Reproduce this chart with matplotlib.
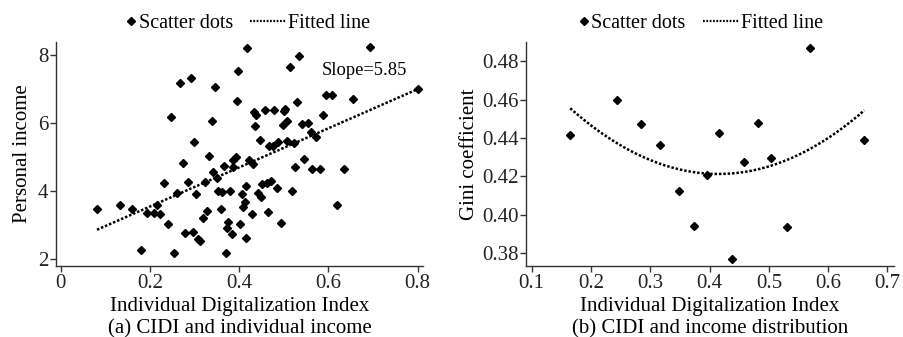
import numpy as np
import matplotlib
matplotlib.use("Agg")
from matplotlib import pyplot as plt
from matplotlib.lines import Line2D
from matplotlib.legend_handler import HandlerLine2D

plt.rcParams['font.family'] = ['Liberation Serif', 'DejaVu Serif']
plt.rcParams['font.size'] = 15

# (a) CIDI vs personal income
cidi_a = [0.418, 0.693, 0.535, 0.513, 0.398, 0.291, 0.268, 0.346, 0.800, 0.656,
          0.595, 0.607, 0.395, 0.530, 0.246, 0.338, 0.432, 0.438, 0.458, 0.479,
          0.502, 0.500, 0.588, 0.508, 0.497, 0.436, 0.541, 0.554, 0.560, 0.573,
          0.299, 0.446, 0.467, 0.476, 0.487, 0.506, 0.522, 0.273, 0.333, 0.365,
          0.386, 0.392, 0.422, 0.431, 0.526, 0.545, 0.563, 0.582, 0.634, 0.387,
          0.342, 0.231, 0.284, 0.324, 0.350, 0.261, 0.302, 0.353, 0.362, 0.380,
          0.406, 0.416, 0.412, 0.409, 0.443, 0.448, 0.450, 0.462, 0.472, 0.485,
          0.518, 0.465, 0.494, 0.428, 0.620, 0.081, 0.133, 0.160, 0.194, 0.208,
          0.216, 0.223, 0.240, 0.318, 0.328, 0.358, 0.375, 0.373, 0.383, 0.401,
          0.416, 0.278, 0.296, 0.307, 0.312, 0.179, 0.253, 0.370]
income = [8.20, 8.23, 7.97, 7.65, 7.53, 7.33, 7.19, 7.06, 7.00, 6.70,
          6.82, 6.82, 6.65, 6.62, 6.17, 6.06, 6.32, 6.24, 6.40, 6.40,
          6.43, 6.36, 6.23, 6.07, 5.94, 5.91, 5.99, 6.01, 5.75, 5.59,
          5.44, 5.50, 5.34, 5.34, 5.44, 5.47, 5.41, 4.84, 5.03, 4.75,
          4.92, 5.00, 4.92, 4.80, 4.72, 4.94, 4.65, 4.65, 4.65, 4.72,
          4.57, 4.25, 4.28, 4.26, 4.40, 3.94, 3.92, 4.01, 3.97, 4.01,
          3.91, 4.15, 3.69, 3.53, 3.96, 3.84, 4.21, 4.23, 4.30, 4.08,
          4.01, 3.38, 3.07, 3.33, 3.59, 3.48, 3.59, 3.48, 3.35, 3.37,
          3.59, 3.33, 3.03, 3.22, 3.42, 3.48, 3.09, 2.91, 2.73, 3.03,
          2.62, 2.76, 2.81, 2.60, 2.54, 2.27, 2.18, 2.18]
fit_a = (2.40, 5.75)  # intercept, slope of fitted line
slope_text = "Slope=5.85"

# (b) CIDI vs Gini coefficient
cidi_b = [0.165, 0.243, 0.285, 0.317, 0.416, 0.481, 0.569, 0.661, 0.458, 0.503,
          0.395, 0.348, 0.373, 0.437, 0.530]
gini = [0.4416, 0.4598, 0.4471, 0.4363, 0.4426, 0.4478, 0.4870, 0.4390, 0.4275, 0.4297,
        0.4207, 0.4121, 0.3940, 0.3766, 0.3933]
fit_b = (0.548, 0.415, 0.4212)  # a, vertex x, vertex y

xticks_a = [0, 0.2, 0.4, 0.6, 0.8]
xlabels_a = ["0", "0.2", "0.4", "0.6", "0.8"]
yticks_a = [2, 4, 6, 8]
xticks_b = [0.1, 0.2, 0.3, 0.4, 0.5, 0.6, 0.7]
yticks_b = [0.38, 0.40, 0.42, 0.44, 0.46, 0.48]

DOTS = (0, (1, 0.75))


class RightMarker(HandlerLine2D):
    # put the diamond close to its text, like the original legend
    def create_artists(self, legend, orig_handle, xdescent, ydescent, width, height, fontsize, trans):
        shift = width / 2 - 4
        return super().create_artists(legend, orig_handle, xdescent - shift, ydescent,
                                      width, height, fontsize, trans)


def style(ax):
    for s in ['top', 'right']:
        ax.spines[s].set_visible(False)
    for s in ['left', 'bottom']:
        ax.spines[s].set_color('#333333')
        ax.spines[s].set_linewidth(1.0)
    ax.tick_params(direction='out', length=4, width=1, color='#333333', labelcolor='#222222', pad=1.5)


def add_legend(ax, xc):
    dot = Line2D([], [], marker='D', ms=3.8, color='black', ls='none')
    line = Line2D([], [], color='black', ls=(0, (0.8, 0.7)), lw=1.6)
    ax.legend([dot, line], ["Scatter dots", "Fitted line"], ncol=2, frameon=False,
              loc='center', bbox_to_anchor=(xc, 1.083), handlelength=1.8,
              handletextpad=0.1, columnspacing=0.85, borderpad=0, fontsize=14.5,
              handler_map={dot: RightMarker(numpoints=1)})


fig = plt.figure(figsize=(9.04, 3.37), dpi=100)
ax1 = fig.add_axes([0.0619, 0.2107, 0.406, 0.664])
ax2 = fig.add_axes([0.5819, 0.2107, 0.407, 0.664])

# panel a
ax1.plot(cidi_a, income, 'D', ms=4.3, color='black')
xa = np.array([min(cidi_a), max(cidi_a)])
ax1.plot(xa, fit_a[0] + fit_a[1] * xa, ls=DOTS, lw=1.8, color='black')
ax1.text(0.585, 7.56, slope_text, va='center', ha='left', fontsize=13.3)
ax1.set_xlim(-0.011, 0.812)
ax1.set_ylim(1.80, 8.38)
ax1.set_xticks(xticks_a, xlabels_a)
ax1.set_yticks(yticks_a)
ax1.set_xlabel("Individual Digitalization Index", labelpad=3)
ax1.set_ylabel("Personal income", labelpad=4)
ax1.text(0.5, -0.279, "(a) CIDI and individual income", transform=ax1.transAxes,
         ha='center', va='center')
style(ax1)
add_legend(ax1, 0.489)

# panel b
ax2.plot(cidi_b, gini, 'D', ms=4.3, color='black')
xb = np.linspace(min(cidi_b), max(cidi_b), 100)
ax2.plot(xb, fit_b[0] * (xb - fit_b[1]) ** 2 + fit_b[2], ls=DOTS, lw=1.8, color='black')
ax2.set_xlim(0.0904, 0.711)
ax2.set_ylim(0.3732, 0.4899)
ax2.set_xticks(xticks_b, [f"{v:.1f}" for v in xticks_b])
ax2.set_yticks(yticks_b, [f"{v:.2f}" for v in yticks_b])
ax2.set_xlabel("Individual Digitalization Index", labelpad=3)
ax2.set_ylabel("Gini coefficient", labelpad=2)
ax2.text(0.5, -0.279, "(b) CIDI and income distribution", transform=ax2.transAxes,
         ha='center', va='center')
style(ax2)
add_legend(ax2, 0.44)

fig.savefig("out.png", dpi=100)
